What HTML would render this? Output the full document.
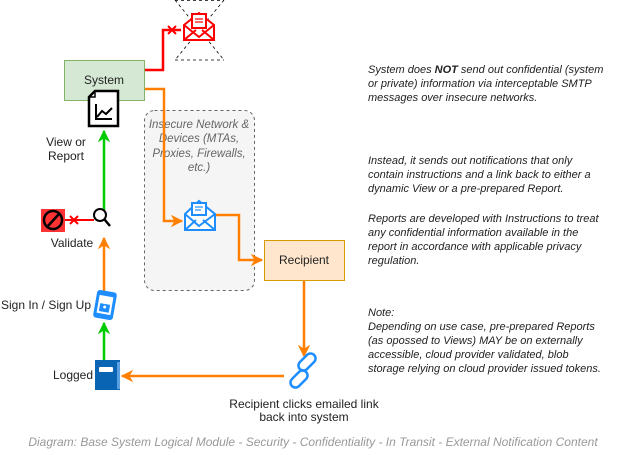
<!DOCTYPE html>
<html><head><meta charset="utf-8"><style>
html,body{margin:0;padding:0;background:#fff;}
svg{display:block;font-family:"Liberation Sans",sans-serif;}
</style></head><body>
<svg width="625" height="455" viewBox="0 0 625 455" xmlns="http://www.w3.org/2000/svg">
<defs>
<marker id="ao" viewBox="0 0 10 10" refX="9" refY="5" markerWidth="5" markerHeight="5" orient="auto"><path d="M0,0 L10,5 L0,10 L3,5z" fill="#FF8000"/></marker>
<marker id="ag" viewBox="0 0 10 10" refX="9" refY="5" markerWidth="5" markerHeight="5" orient="auto"><path d="M0,0 L10,5 L0,10 L3,5z" fill="#00CC00"/></marker>
</defs>
<rect x="144.5" y="110.5" width="110" height="180" rx="10" fill="#f5f5f5" stroke="#666" stroke-dasharray="3,3"/>
<text font-style="italic" font-size="11.5" fill="#666" text-anchor="middle"><tspan x="199" y="128">Insecure Network &amp;</tspan><tspan x="199" y="142">Devices (MTAs,</tspan><tspan x="199" y="157">Proxies, Firewalls,</tspan><tspan x="199" y="171">etc.)</tspan></text>
<g stroke="#000" stroke-dasharray="3,3" fill="none" stroke-width="0.8">
<line x1="175" y1="0" x2="224" y2="60"/><line x1="224" y1="0" x2="175" y2="60"/>
<line x1="175" y1="0.5" x2="224" y2="0.5"/><line x1="175" y1="60" x2="224" y2="60"/>
</g>
<g stroke="#FF0000" fill="#fff" stroke-width="2">
<path d="M184,25 L199,13 L214,25 L214,40 L184,40 Z"/><path d="M184,25 L199,37 L214,25" fill="none"/><path d="M184,40 L196,30 M214,40 L202,30" fill="none"/>
<rect x="192" y="14" width="14" height="14"/>
</g>
<g stroke="#FF0000" stroke-width="1.2"><line x1="195" y1="19" x2="203" y2="19"/><line x1="195" y1="22" x2="203" y2="22"/></g>
<path d="M145,70 H163 V30 H181" stroke="#FF0000" stroke-width="2.5" fill="none"/>
<g stroke="#FF0000" stroke-width="2"><line x1="168" y1="26" x2="176" y2="34"/><line x1="176" y1="26" x2="168" y2="34"/></g>
<path d="M145,89 H164 V221 H182" stroke="#FF8000" stroke-width="2.5" fill="none" marker-end="url(#ao)"/>
<g stroke="#1E8EFF" fill="#fff" stroke-width="2">
<path d="M185,214 L199,201 L215,214 L215,230 L185,230 Z"/><path d="M185,214 L199,226 L215,214" fill="none"/><path d="M185,230 L196,220 M215,230 L203,220" fill="none"/>
<rect x="192" y="203" width="14" height="12"/>
</g>
<g stroke="#1E8EFF" stroke-width="1.2"><line x1="195" y1="207" x2="203" y2="207"/><line x1="195" y1="210" x2="201" y2="210"/></g>
<path d="M216,215 H239 V260 H262" stroke="#FF8000" stroke-width="2.5" fill="none" marker-end="url(#ao)"/>
<rect x="64.5" y="60.5" width="80" height="40" fill="#d5e8d4" stroke="#82b366"/>
<text x="104" y="84" font-size="12" text-anchor="middle" fill="#222">System</text>
<rect x="264.5" y="240.5" width="80" height="40" fill="#ffe6cc" stroke="#d79b00"/>
<text x="304" y="264" font-size="12" text-anchor="middle" fill="#222">Recipient</text>
<path d="M95,91 H118 V126 H89 V97 Z" fill="#fff" stroke="#000" stroke-width="2.5"/>
<path d="M89,97 H95 V91" fill="none" stroke="#000" stroke-width="1.5"/>
<path d="M96,104 V119 H112 M97,117 L102,111 L106,114 L112,108" fill="none" stroke="#000" stroke-width="2"/>
<text font-size="12" fill="#222" text-anchor="middle"><tspan x="66" y="146">View or</tspan><tspan x="66" y="160">Report</tspan></text>
<line x1="104" y1="210" x2="104" y2="131" stroke="#00CC00" stroke-width="2.5" marker-end="url(#ag)"/>
<circle cx="100" cy="215" r="6" fill="#fff" stroke="#000" stroke-width="2"/>
<line x1="104.5" y1="219.5" x2="110" y2="226" stroke="#000" stroke-width="2.5"/>
<rect x="41" y="209" width="24" height="23" fill="#FF3333"/>
<circle cx="53" cy="220" r="9" fill="none" stroke="#000" stroke-width="2.5"/>
<line x1="47" y1="227" x2="59" y2="214" stroke="#000" stroke-width="2.5"/>
<line x1="65" y1="220" x2="94" y2="220" stroke="#FF0000" stroke-width="2"/>
<g stroke="#FF0000" stroke-width="2"><line x1="70" y1="216" x2="78" y2="224"/><line x1="78" y1="216" x2="70" y2="224"/></g>
<text x="72" y="247" font-size="12" fill="#222" text-anchor="middle">Validate</text>
<line x1="104" y1="291" x2="104" y2="238" stroke="#FF8000" stroke-width="2.5" marker-end="url(#ao)"/>
<g transform="rotate(10 105 305)">
<rect x="95" y="291" width="20" height="28" rx="3" fill="#1E8EFF"/>
<rect x="98" y="296" width="14" height="18" fill="#fff"/>
<rect x="100" y="304" width="10" height="8" fill="#1E8EFF"/>
<circle cx="105" cy="307" r="1.5" fill="#fff"/>
</g>
<text x="46" y="309" font-size="12" fill="#222" text-anchor="middle">Sign In / Sign Up</text>
<line x1="104" y1="360" x2="104" y2="323" stroke="#00CC00" stroke-width="2.5" marker-end="url(#ag)"/>
<rect x="95" y="360" width="25" height="30" fill="#0A64B4"/>
<rect x="117" y="362" width="3" height="27" fill="#5AA0E0"/>
<rect x="99" y="367" width="14" height="5" rx="1" fill="#fff"/>
<text x="73" y="379" font-size="12" fill="#222" text-anchor="middle">Logged</text>
<line x1="284" y1="376" x2="122" y2="376" stroke="#FF8000" stroke-width="2.5" marker-end="url(#ao)"/>
<line x1="304" y1="281" x2="304" y2="356" stroke="#FF8000" stroke-width="2.5" marker-end="url(#ao)"/>
<g fill="none" stroke="#1E8EFF" stroke-width="2.5">
<rect x="302" y="352" width="10" height="20" rx="5" transform="rotate(45 307 362)"/>
<rect x="294" y="369" width="10" height="20" rx="5" transform="rotate(45 299 379)"/>
</g>
<text font-size="12" fill="#222" text-anchor="middle"><tspan x="304" y="408">Recipient clicks emailed link</tspan><tspan x="304" y="421">back into system</tspan></text>
<g font-size="11" font-style="italic" fill="#222">
<text x="368" y="73">System does <tspan font-weight="bold">NOT</tspan> send out confidential (system</text>
<text x="368" y="87">or private) information via interceptable SMTP</text>
<text x="368" y="101">messages over insecure networks.</text>
<text x="368" y="164">Instead, it sends out notifications that only</text>
<text x="368" y="178">contain instructions and a link back to either a</text>
<text x="368" y="192">dynamic View or a pre-prepared Report.</text>
<text x="368" y="222">Reports are developed with Instructions to treat</text>
<text x="368" y="236">any confidential information available in the</text>
<text x="368" y="250">report in accordance with applicable privacy</text>
<text x="368" y="264">regulation.</text>
<text x="368" y="316">Note:</text>
<text x="368" y="330">Depending on use case, pre-prepared Reports</text>
<text x="368" y="344">(as opossed to Views) MAY be on externally</text>
<text x="368" y="358">accessible, cloud provider validated, blob</text>
<text x="368" y="372">storage relying on cloud provider issued tokens.</text>
</g>
<text x="313" y="446" font-size="12" font-style="italic" fill="#999" text-anchor="middle">Diagram: Base System Logical Module - Security - Confidentiality - In Transit - External Notification Content</text>
</svg>
</body></html>
